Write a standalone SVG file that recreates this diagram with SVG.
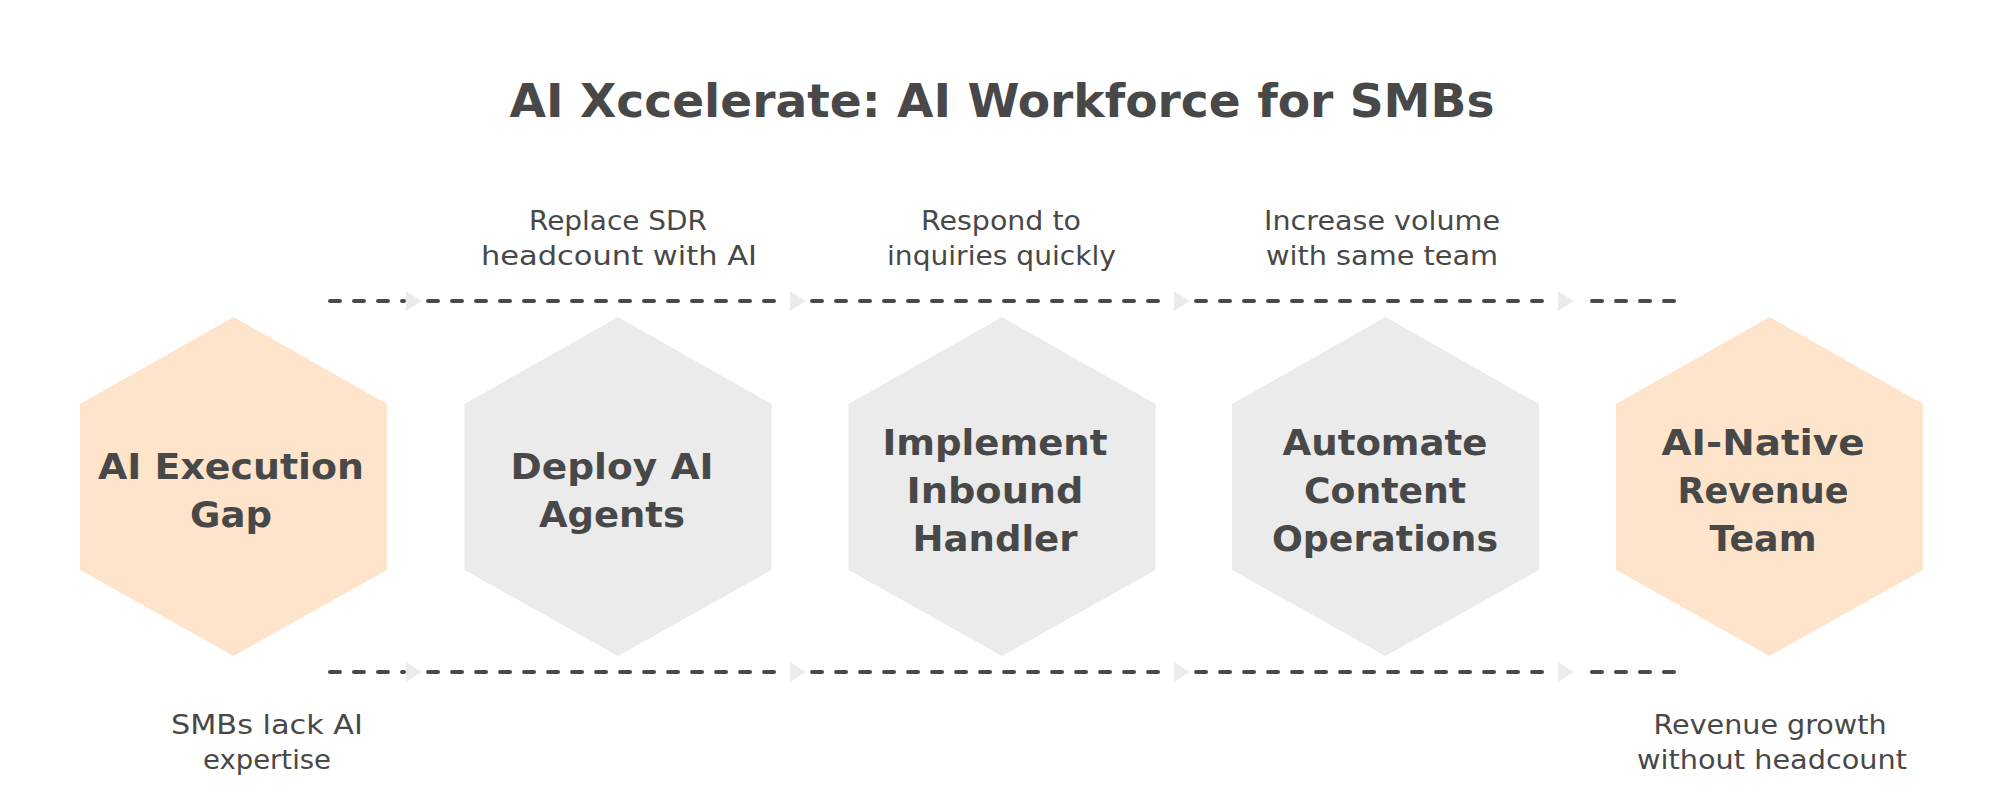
<svg xmlns="http://www.w3.org/2000/svg" width="2004" height="795" viewBox="0 0 2004 795">
  <defs>
    <style>
      .bg { fill: #ffffff; }
      .hex-accent { fill: #FFE4CC; }
      .hex-step { fill: #EBEBEB; }
      .title { font-family: "DejaVu Sans", "Liberation Sans", sans-serif; font-weight: bold; font-size: 47px; fill: #484848; text-anchor: middle; }
      .node-label { font-family: "DejaVu Sans", "Liberation Sans", sans-serif; font-weight: bold; font-size: 36px; fill: #484848; text-anchor: middle; }
      .note { font-family: "DejaVu Sans", "Liberation Sans", sans-serif; font-size: 26px; fill: #484848; text-anchor: middle; }
      .dash { stroke: #4A4A4A; stroke-width: 4; stroke-dasharray: 10 14; stroke-linecap: round; fill: none; }
      .head { fill: #EBEBEB; }
    </style>
  </defs>
  <rect class="bg" x="0" y="0" width="2004" height="795"/>

  <text id="title" class="title" x="1002" y="117" textLength="985" lengthAdjust="spacingAndGlyphs">AI Xccelerate: AI Workforce for SMBs</text>

  <g id="connectors">
    <line class="dash" x1="330" y1="301" x2="404" y2="301"/>
    <polygon class="head" points="406,291 422,301 406,311"/>
    <line class="dash" x1="428" y1="301" x2="788" y2="301"/>
    <polygon class="head" points="790,291 806,301 790,311"/>
    <line class="dash" x1="812" y1="301" x2="1172" y2="301"/>
    <polygon class="head" points="1174,291 1190,301 1174,311"/>
    <line class="dash" x1="1196" y1="301" x2="1556" y2="301"/>
    <polygon class="head" points="1558,291 1574,301 1558,311"/>
    <line class="dash" x1="1592" y1="301" x2="1676" y2="301"/>

    <line class="dash" x1="330" y1="672" x2="404" y2="672"/>
    <polygon class="head" points="406,662 422,672 406,682"/>
    <line class="dash" x1="428" y1="672" x2="788" y2="672"/>
    <polygon class="head" points="790,662 806,672 790,682"/>
    <line class="dash" x1="812" y1="672" x2="1172" y2="672"/>
    <polygon class="head" points="1174,662 1190,672 1174,682"/>
    <line class="dash" x1="1196" y1="672" x2="1556" y2="672"/>
    <polygon class="head" points="1558,662 1574,672 1558,682"/>
    <line class="dash" x1="1592" y1="672" x2="1676" y2="672"/>
  </g>

  <g id="node-gap">
    <polygon class="hex-accent" points="233.5,317 387,404 387,570 233.5,656 80,570 80,404"/>
    <text class="node-label" x="231" y="479" textLength="266" lengthAdjust="spacingAndGlyphs">AI Execution</text>
    <text class="node-label" x="231" y="527" textLength="82" lengthAdjust="spacingAndGlyphs">Gap</text>
  </g>

  <g id="node-agents">
    <polygon class="hex-step" points="618,317 771.5,404 771.5,570 618,656 464.5,570 464.5,404"/>
    <text class="node-label" x="612" y="479" textLength="203" lengthAdjust="spacingAndGlyphs">Deploy AI</text>
    <text class="node-label" x="612" y="527" textLength="146" lengthAdjust="spacingAndGlyphs">Agents</text>
  </g>

  <g id="node-inbound">
    <polygon class="hex-step" points="1002,317 1155.5,404 1155.5,570 1002,656 848.5,570 848.5,404"/>
    <text class="node-label" x="995" y="455" textLength="225" lengthAdjust="spacingAndGlyphs">Implement</text>
    <text class="node-label" x="995" y="503" textLength="177" lengthAdjust="spacingAndGlyphs">Inbound</text>
    <text class="node-label" x="995" y="551" textLength="165" lengthAdjust="spacingAndGlyphs">Handler</text>
  </g>

  <g id="node-content">
    <polygon class="hex-step" points="1385.5,317 1539,404 1539,570 1385.5,656 1232,570 1232,404"/>
    <text class="node-label" x="1385" y="455" textLength="205" lengthAdjust="spacingAndGlyphs">Automate</text>
    <text class="node-label" x="1385" y="503" textLength="162" lengthAdjust="spacingAndGlyphs">Content</text>
    <text class="node-label" x="1385" y="551" textLength="226" lengthAdjust="spacingAndGlyphs">Operations</text>
  </g>

  <g id="node-revenue-team">
    <polygon class="hex-accent" points="1769.5,317 1923,404 1923,570 1769.5,656 1616,570 1616,404"/>
    <text class="node-label" x="1763" y="455" textLength="203" lengthAdjust="spacingAndGlyphs">AI-Native</text>
    <text class="node-label" x="1763" y="503" textLength="171" lengthAdjust="spacingAndGlyphs">Revenue</text>
    <text class="node-label" x="1763" y="551" textLength="107" lengthAdjust="spacingAndGlyphs">Team</text>
  </g>

  <g id="note-sdr">
    <text class="note" x="618" y="230" textLength="178" lengthAdjust="spacingAndGlyphs">Replace SDR</text>
    <text class="note" x="619" y="265" textLength="276" lengthAdjust="spacingAndGlyphs">headcount with AI</text>
  </g>
  <g id="note-respond">
    <text class="note" x="1001" y="230" textLength="160" lengthAdjust="spacingAndGlyphs">Respond to</text>
    <text class="note" x="1001.5" y="265" textLength="229" lengthAdjust="spacingAndGlyphs">inquiries quickly</text>
  </g>
  <g id="note-volume">
    <text class="note" x="1382" y="230" textLength="236" lengthAdjust="spacingAndGlyphs">Increase volume</text>
    <text class="note" x="1382" y="265" textLength="232" lengthAdjust="spacingAndGlyphs">with same team</text>
  </g>
  <g id="note-smbs">
    <text class="note" x="267" y="734" textLength="192" lengthAdjust="spacingAndGlyphs">SMBs lack AI</text>
    <text class="note" x="267" y="769" textLength="128" lengthAdjust="spacingAndGlyphs">expertise</text>
  </g>
  <g id="note-growth">
    <text class="note" x="1770" y="734" textLength="233" lengthAdjust="spacingAndGlyphs">Revenue growth</text>
    <text class="note" x="1772" y="769" textLength="270" lengthAdjust="spacingAndGlyphs">without headcount</text>
  </g>
</svg>
